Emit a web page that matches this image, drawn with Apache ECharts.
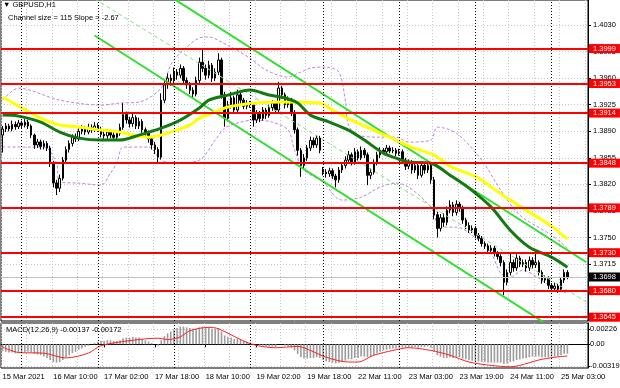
<!DOCTYPE html>
<html><head><meta charset="utf-8">
<script src="https://cdn.jsdelivr.net/npm/echarts@6/dist/echarts.min.js"></script>
<style>html,body{margin:0;padding:0;background:#fff}#c{width:620px;height:388px}</style>
</head><body><div id="c"></div>
<script>
// ---- time axis ----
const tradingDays = ['15 Mar','16 Mar','17 Mar','18 Mar','19 Mar','22 Mar','23 Mar','24 Mar','25 Mar'];
const firstHour = [18,0,0,0,0,0,0,0,0];
const lastHour  = [23,23,23,23,22,23,23,23,5];
const year = '2021';
const padBars = 6;

// ---- candles ----
const opens = [1.3885,1.3893,1.3897,1.3893,1.3899,1.3896,1.3901,1.3898,1.3902,1.3897,
1.3885,1.3872,1.3876,1.3870,1.3874,1.3868,1.3848,1.3822,1.3815,1.3828,
1.3852,1.3866,1.3874,1.3882,1.3880,1.3890,1.3893,1.3889,1.3895,1.3892,
1.3897,1.3893,1.3886,1.3884,1.3889,1.3885,1.3882,1.3887,1.3895,1.3912,
1.3905,1.3900,1.3908,1.3897,1.3903,1.3892,1.3888,1.3880,1.3872,1.3866,
1.3856,1.3931,1.3951,1.3960,1.3957,1.3968,1.3964,1.3973,1.3957,1.3951,
1.3944,1.3939,1.3957,1.3981,1.3973,1.3964,1.3977,1.3960,1.3968,1.3984,
1.3938,1.3907,1.3925,1.3934,1.3918,1.3938,1.3931,1.3923,1.3927,1.3925,
1.3905,1.3914,1.3907,1.3918,1.3911,1.3921,1.3927,1.3918,1.3947,1.3938,
1.3925,1.3931,1.3915,1.3892,1.3865,1.3845,1.3855,1.3868,1.3878,1.3872,
1.3881,1.3840,1.3836,1.3834,1.3838,1.3831,1.3826,1.3839,1.3845,1.3852,
1.3859,1.3849,1.3863,1.3855,1.3865,1.3859,1.3832,1.3836,1.3849,1.3859,
1.3865,1.3863,1.3868,1.3864,1.3865,1.3861,1.3863,1.3852,1.3844,1.3849,
1.3839,1.3845,1.3832,1.3845,1.3839,1.3845,1.3826,1.3780,1.3762,1.3776,
1.3770,1.3786,1.3793,1.3783,1.3794,1.3789,1.3773,1.3766,1.3760,1.3762,
1.3753,1.3749,1.3742,1.3739,1.3733,1.3736,1.3729,1.3725,1.3717,1.3691,
1.3704,1.3717,1.3710,1.3723,1.3715,1.3717,1.3710,1.3720,1.3714,1.3717,
1.3704,1.3694,1.3696,1.3687,1.3683,1.3686,1.3682,1.3694,1.3704];
const closes = [1.3893,1.3897,1.3893,1.3899,1.3896,1.3901,1.3898,1.3902,1.3897,1.3885,
1.3872,1.3876,1.3870,1.3874,1.3868,1.3848,1.3822,1.3815,1.3828,1.3852,
1.3866,1.3874,1.3882,1.3880,1.3890,1.3893,1.3889,1.3895,1.3892,1.3897,
1.3893,1.3886,1.3884,1.3889,1.3885,1.3882,1.3887,1.3895,1.3912,1.3905,
1.3900,1.3908,1.3897,1.3903,1.3892,1.3888,1.3880,1.3872,1.3866,1.3856,
1.3931,1.3951,1.3960,1.3957,1.3968,1.3964,1.3973,1.3957,1.3951,1.3944,
1.3939,1.3957,1.3981,1.3973,1.3964,1.3977,1.3960,1.3968,1.3984,1.3938,
1.3907,1.3925,1.3934,1.3918,1.3938,1.3931,1.3923,1.3927,1.3925,1.3905,
1.3914,1.3907,1.3918,1.3911,1.3921,1.3927,1.3918,1.3947,1.3938,1.3925,
1.3931,1.3915,1.3892,1.3865,1.3845,1.3855,1.3868,1.3878,1.3872,1.3881,
1.3865,1.3836,1.3834,1.3838,1.3831,1.3826,1.3839,1.3845,1.3852,1.3859,
1.3849,1.3863,1.3855,1.3865,1.3859,1.3832,1.3836,1.3849,1.3859,1.3865,
1.3863,1.3868,1.3864,1.3865,1.3861,1.3863,1.3852,1.3844,1.3849,1.3839,
1.3845,1.3832,1.3845,1.3839,1.3845,1.3826,1.3780,1.3762,1.3776,1.3770,
1.3786,1.3793,1.3783,1.3794,1.3789,1.3773,1.3766,1.3760,1.3762,1.3753,
1.3749,1.3742,1.3739,1.3733,1.3736,1.3729,1.3725,1.3717,1.3691,1.3704,
1.3717,1.3710,1.3723,1.3715,1.3717,1.3710,1.3720,1.3714,1.3717,1.3704,
1.3694,1.3696,1.3687,1.3683,1.3686,1.3682,1.3694,1.3704,1.3698];
const highs = [1.3897,1.3901,1.3900,1.3904,1.3903,1.3905,1.3904,1.3906,1.3905,1.3899,
1.3887,1.3880,1.3879,1.3878,1.3877,1.3871,1.3851,1.3826,1.3833,1.3856,
1.3870,1.3878,1.3886,1.3887,1.3894,1.3898,1.3897,1.3900,1.3899,1.3902,
1.3901,1.3896,1.3890,1.3893,1.3892,1.3889,1.3891,1.3900,1.3927,1.3916,
1.3909,1.3913,1.3911,1.3908,1.3906,1.3895,1.3891,1.3884,1.3876,1.3869,
1.3940,1.3956,1.3966,1.3965,1.3974,1.3972,1.3978,1.3976,1.3961,1.3955,
1.3948,1.3962,1.3987,1.3999,1.3978,1.3983,1.3980,1.3973,1.3993,1.3987,
1.3942,1.3930,1.3942,1.3937,1.3945,1.3942,1.3934,1.3931,1.3930,1.3928,
1.3918,1.3917,1.3922,1.3921,1.3925,1.3931,1.3930,1.3955,1.3950,1.3941,
1.3936,1.3934,1.3918,1.3895,1.3868,1.3860,1.3872,1.3883,1.3882,1.3885,
1.3884,1.3843,1.3840,1.3842,1.3841,1.3834,1.3843,1.3849,1.3857,1.3864,
1.3862,1.3868,1.3866,1.3870,1.3868,1.3862,1.3841,1.3853,1.3863,1.3869,
1.3868,1.3872,1.3871,1.3869,1.3868,1.3867,1.3866,1.3855,1.3853,1.3852,
1.3850,1.3848,1.3850,1.3849,1.3850,1.3848,1.3830,1.3784,1.3781,1.3782,
1.3791,1.3799,1.3797,1.3799,1.3797,1.3792,1.3776,1.3770,1.3766,1.3765,
1.3756,1.3752,1.3745,1.3742,1.3740,1.3739,1.3732,1.3728,1.3720,1.3708,
1.3730,1.3721,1.3728,1.3726,1.3721,1.3721,1.3725,1.3724,1.3729,1.3720,
1.3707,1.3700,1.3699,1.3690,1.3690,1.3689,1.3698,1.3708,1.3707];
const lows = [1.3862,1.3889,1.3890,1.3890,1.3892,1.3893,1.3894,1.3895,1.3893,1.3881,
1.3867,1.3868,1.3866,1.3866,1.3864,1.3843,1.3816,1.3806,1.3810,1.3825,
1.3848,1.3862,1.3870,1.3876,1.3877,1.3886,1.3885,1.3886,1.3888,1.3889,
1.3889,1.3882,1.3878,1.3880,1.3881,1.3878,1.3879,1.3884,1.3892,1.3900,
1.3895,1.3896,1.3893,1.3893,1.3888,1.3882,1.3875,1.3866,1.3860,1.3848,
1.3853,1.3927,1.3946,1.3950,1.3952,1.3958,1.3960,1.3952,1.3946,1.3939,
1.3935,1.3936,1.3953,1.3968,1.3958,1.3960,1.3955,1.3956,1.3964,1.3933,
1.3896,1.3903,1.3920,1.3913,1.3915,1.3926,1.3919,1.3919,1.3921,1.3896,
1.3901,1.3902,1.3904,1.3906,1.3908,1.3917,1.3913,1.3915,1.3933,1.3920,
1.3921,1.3910,1.3887,1.3858,1.3830,1.3840,1.3851,1.3864,1.3868,1.3868,
1.3861,1.3832,1.3829,1.3830,1.3827,1.3816,1.3822,1.3835,1.3841,1.3848,
1.3845,1.3846,1.3851,1.3852,1.3855,1.3819,1.3827,1.3833,1.3845,1.3855,
1.3859,1.3860,1.3861,1.3861,1.3857,1.3858,1.3848,1.3839,1.3840,1.3834,
1.3835,1.3827,1.3829,1.3834,1.3835,1.3821,1.3774,1.3750,1.3758,1.3764,
1.3766,1.3782,1.3778,1.3779,1.3784,1.3768,1.3761,1.3756,1.3756,1.3749,
1.3745,1.3738,1.3735,1.3729,1.3729,1.3725,1.3721,1.3712,1.3674,1.3687,
1.3700,1.3705,1.3706,1.3711,1.3711,1.3705,1.3706,1.3709,1.3710,1.3700,
1.3689,1.3690,1.3682,1.3678,1.3679,1.3677,1.3679,1.3690,1.3695];

// ---- indicators: [bar index, price] ----
const maGreen = [[0,1.39113],[5,1.39100],[12,1.39021],[18,1.38889],[24,1.38810],[31,1.38784],[37,1.38784],[43,1.38850],[50,1.38942],[56,1.39047],[62,1.39206],[65,1.39311],[71,1.39377],[78,1.39443],[84,1.39377],[89,1.39338],[93,1.39272],[97,1.39113],[103,1.39021],[109,1.38916],[114,1.38784],[120,1.38612],[124,1.38546],[128,1.38494],[135,1.38480],[141,1.38322],[147,1.38151],[154,1.37900],[160,1.37597],[166,1.37373],[173,1.37241],[178,1.37109]];
const maYellow = [[0,1.39351],[5,1.39232],[12,1.39074],[18,1.38982],[24,1.38955],[31,1.38916],[37,1.38889],[41,1.38850],[46,1.38823],[50,1.38850],[53,1.38889],[59,1.38982],[62,1.39074],[67,1.39153],[71,1.39219],[80,1.39272],[88,1.39285],[100,1.39272],[104,1.39179],[110,1.39047],[117,1.38916],[124,1.38784],[128,1.38705],[136,1.38586],[141,1.38441],[150,1.38283],[154,1.38164],[160,1.37993],[166,1.37834],[173,1.37650],[178,1.37478]];
const bandUpper = [[0,1.39311],[5,1.39469],[18,1.39311],[31,1.39245],[37,1.39272],[43,1.39285],[50,1.39469],[53,1.39773],[56,1.39931],[62,1.40129],[65,1.40142],[69,1.40076],[78,1.39865],[83,1.39707],[90,1.39614],[94,1.39680],[97,1.39733],[102,1.39746],[106,1.39680],[108,1.39311],[109,1.38982],[112,1.38850],[119,1.38823],[124,1.38823],[128,1.38757],[135,1.38784],[137,1.38955],[143,1.38876],[151,1.38520],[157,1.38124],[163,1.37795],[173,1.37531],[178,1.37360]];
const bandLower = [[0,1.38692],[13,1.38692],[17,1.38480],[18,1.38230],[24,1.38217],[31,1.38190],[34,1.38349],[36,1.38480],[38,1.38692],[46,1.38692],[50,1.38520],[54,1.38480],[62,1.38520],[67,1.38784],[70,1.38942],[75,1.39021],[79,1.39047],[85,1.39021],[90,1.38916],[92,1.38652],[95,1.38388],[101,1.38230],[105,1.38032],[107,1.37993],[113,1.38032],[119,1.38164],[124,1.38217],[128,1.38164],[135,1.37900],[138,1.37637],[143,1.37637],[150,1.37465],[154,1.37294],[157,1.37030],[160,1.36977],[164,1.37070],[169,1.36964],[173,1.36845],[178,1.36766]];
const channelUpper = [[29,1.41312],[184,1.37174]];
const channelLower = [[29,1.40162],[184,1.36024]];
const channelMid   = [[29,1.40644],[184,1.36650]];
const channelText = 'Channel size = 115 Slope = -2.67';

// ---- levels & ticks ----
const levels = [1.3999,1.3953,1.3914,1.3848,1.3789,1.3730,1.3680,1.3645];
const lastPrice = 1.3698;
const priceTicks = [1.4030,1.3995,1.3960,1.3925,1.3890,1.3855,1.3820,1.3785,1.3750,1.3715,1.3680,1.3645];

// ---- MACD ----
const macdMain = [-0.0010,-0.0011,-0.0012,-0.0012,-0.0013,-0.0013,-0.0012,-0.0012,-0.0011,-0.0012,-0.0014,-0.0015,-0.0016,
-0.0018,-0.0020,-0.0023,-0.0026,-0.0027,-0.0026,-0.0023,
-0.0019,-0.0016,-0.0013,-0.0011,-0.0008,-0.0006,-0.0004,
-0.0002,0.0000,0.0002,0.0004,0.0005,
0.0005,0.0006,0.0006,0.0005,0.0005,0.0006,0.0009,0.0010,0.0010,0.0011,0.0010,0.0010,0.0008,0.0006,0.0004,0.0002,0.0000,
-0.0002,0.0006,
0.0012,0.0016,0.0019,0.0022,0.0024,0.0026,0.0026,0.0025,0.0024,0.0023,
0.0023,0.0025,0.0026,0.0025,0.0025,0.0023,0.0023,0.0024,0.0019,0.0013,
0.0011,0.0010,0.0008,0.0008,0.0007,0.0005,0.0004,0.0003,0.0001,0.0000,
-0.0001,-0.0002,-0.0003,-0.0003,-0.0003,-0.0004,0.0000,0.0000,-0.0002,-0.0003,-0.0005,
-0.0009,-0.0014,-0.0019,-0.0021,-0.0021,-0.0020,-0.0020,-0.0019,-0.0020,
-0.0023,-0.0025,-0.0026,-0.0027,-0.0028,-0.0027,-0.0026,-0.0024,-0.0022,-0.0022,
-0.0020,-0.0020,-0.0018,-0.0018,-0.0019,-0.0018,-0.0016,-0.0013,-0.0011,-0.0009,
-0.0008,-0.0007,-0.0006,-0.0006,-0.0005,-0.0005,-0.0005,-0.0004,-0.0005,-0.0004,-0.0005,-0.0004,-0.0004,-0.0003,-0.0005,
-0.0011,-0.0016,-0.0018,-0.0020,-0.0020,-0.0019,-0.0020,-0.0019,-0.0019,-0.0021,
-0.0022,-0.0023,-0.0024,-0.0025,-0.0025,-0.0026,-0.0026,-0.0027,-0.0027,-0.0027,-0.0027,-0.0027,-0.0029,-0.0028,-0.0026,
-0.0025,-0.0023,-0.0022,-0.0021,-0.0020,-0.0019,-0.0018,-0.0018,-0.0018,-0.0019,-0.0019,-0.0019,-0.0018,-0.0018,-0.0018,-0.0016,-0.0014,-0.00137];
const macdSignal = [[0,-0.0004],[5,-0.0012],[13,-0.0013],[20,-0.0020],[27,-0.0013],[31,-0.0002],[41,0.0006],[49,0.0009],[52,0.0007],[56,0.0011],[59,0.0020],[65,0.0025],[68,0.0023],[78,0.0001],[86,-0.0005],[93,-0.0003],[97,-0.0009],[102,-0.0019],[109,-0.0026],[112,-0.0026],[117,-0.0016],[123,-0.0009],[128,-0.0005],[135,-0.0009],[141,-0.0016],[147,-0.0026],[154,-0.0031],[160,-0.0033],[163,-0.0031],[169,-0.0023],[174,-0.0019],[178,-0.00172]];
const macdTicks = [0.00226, 0, -0.00319];

// ---- build ----
const cats = [], dayStarts = [];
tradingDays.forEach((d, i) => {
  for (let h = firstHour[i]; h <= lastHour[i]; h++) {
    if (h === 0) dayStarts.push(cats.length);
    cats.push(d + ' ' + String(h).padStart(2, '0') + ':00');
  }
});
for (let k = 0; k < padBars; k++) cats.push('');
const candles = closes.map((c, i) => [opens[i], c, lows[i], highs[i]]);

const FONT = '"Liberation Sans", Arial, "DejaVu Sans", sans-serif';
const FS = 7.5;
const gridLine = { show: true, lineStyle: { color: '#c6c6c6', type: [1, 2], width: 1 } };
const sepLines = dayStarts.map(i => ({ xAxis: i }));
const boxLabel = (txt, bg) => ({ show: true, position: 'end', distance: 1, formatter: txt, color: '#fff', backgroundColor: bg,
  padding: [1, 4, 0, 4], fontSize: FS, fontFamily: FONT });
const levelItems = levels.map(v => ({ yAxis: v, lineStyle: { color: '#ff0000', width: 2, type: 'solid' }, label: boxLabel(v.toFixed(4), '#ff0000') }));
levelItems.push({ yAxis: lastPrice, lineStyle: { color: '#c0c0c0', width: 1, type: 'solid' }, label: boxLabel(lastPrice.toFixed(4), '#000') });

const chart = echarts.init(document.getElementById('c'));
chart.setOption({
  animation: false,
  backgroundColor: '#fff',
  textStyle: { fontFamily: FONT },
  title: [
    { text: '\u25BC GBPUSD,H1', left: 3, top: 1, padding: 0, textStyle: { fontSize: FS, fontWeight: 'normal', color: '#000', fontFamily: FONT } },
    { text: channelText, left: 8, top: 14, padding: 0, textStyle: { fontSize: FS, fontWeight: 'normal', color: '#000', fontFamily: FONT } },
    { text: 'MACD(12,26,9) ' + macdMain[macdMain.length - 1].toFixed(5) + ' ' + macdSignal[macdSignal.length - 1][1].toFixed(5),
      left: 6, top: 326, padding: 0, textStyle: { fontSize: FS, fontWeight: 'normal', color: '#000', fontFamily: FONT } }
  ],
  grid: [
    { left: 1, right: 32, top: 0, height: 321, show: true, borderColor: '#000', borderWidth: 1, outerBoundsMode: 'none' },
    { left: 1, right: 32, top: 323, height: 45, show: true, borderColor: '#000', borderWidth: 1, outerBoundsMode: 'none' }
  ],
  xAxis: [
    { type: 'category', gridIndex: 0, data: cats, axisLine: { show: false }, axisTick: { show: false }, axisLabel: { show: false },
      splitLine: Object.assign({ interval: 7 }, gridLine) },
    { type: 'category', gridIndex: 1, data: cats, axisLine: { show: true, lineStyle: { color: '#000', width: 1 } },
      axisTick: { show: true, interval: 15, alignWithLabel: true, length: 3, lineStyle: { color: '#000' } },
      axisLabel: { interval: 15, align: 'left', fontSize: FS, color: '#000', margin: 5, fontFamily: FONT,
        formatter: (v, i) => i === 0 ? tradingDays[0] + ' ' + year : v },
      splitLine: Object.assign({ interval: 7 }, gridLine) }
  ],
  yAxis: [
    { type: 'value', gridIndex: 0, position: 'right', min: 1.3640, max: 1.4063,
      axisLine: { show: true, lineStyle: { color: '#000' } },
      axisTick: { show: true, length: 3, customValues: priceTicks, lineStyle: { color: '#000' } },
      axisLabel: { customValues: priceTicks, formatter: v => v.toFixed(4), fontSize: FS, color: '#000', margin: 5, fontFamily: FONT },
      splitLine: gridLine },
    { type: 'value', gridIndex: 1, position: 'right', min: -0.00348, max: 0.00314,
      axisLine: { show: true, lineStyle: { color: '#000' } },
      axisTick: { show: true, length: 2, customValues: macdTicks, lineStyle: { color: '#000' } },
      axisLabel: { customValues: macdTicks, formatter: v => v === 0 ? '0.00' : v.toFixed(5), fontSize: FS, color: '#000', margin: 2, fontFamily: FONT },
      splitLine: gridLine }
  ],
  series: [
    { type: 'line', name: 'bandUpper', xAxisIndex: 0, yAxisIndex: 0, data: bandUpper, showSymbol: false, smooth: 0.3, z: 1,
      lineStyle: { color: '#bd86d8', width: 1, type: [3, 2] },
      markLine: { silent: true, symbol: ['none', 'none'], label: { show: false }, animation: false,
        lineStyle: { color: '#000', type: [1, 2], width: 1 }, data: sepLines } },
    { type: 'line', name: 'bandLower', xAxisIndex: 0, yAxisIndex: 0, data: bandLower, showSymbol: false, smooth: 0.3, z: 1,
      lineStyle: { color: '#bd86d8', width: 1, type: [3, 2] } },
    { type: 'candlestick', xAxisIndex: 0, yAxisIndex: 0, data: candles, barWidth: 2, z: 2,
      itemStyle: { color: '#fff', color0: '#000', borderColor: '#000', borderColor0: '#000', borderWidth: 1 } },
    { type: 'line', name: 'chanMid', xAxisIndex: 0, yAxisIndex: 0, data: channelMid, showSymbol: false, z: 3,
      lineStyle: { color: '#7ee07e', width: 1, type: [4, 3] } },
    { type: 'line', name: 'chanUp', xAxisIndex: 0, yAxisIndex: 0, data: channelUpper, showSymbol: false, z: 3,
      lineStyle: { color: '#2fe02f', width: 2 } },
    { type: 'line', name: 'chanLow', xAxisIndex: 0, yAxisIndex: 0, data: channelLower, showSymbol: false, z: 3,
      lineStyle: { color: '#2fe02f', width: 2 } },
    { type: 'line', name: 'maYellow', xAxisIndex: 0, yAxisIndex: 0, data: maYellow, showSymbol: false, smooth: 0.3, z: 4,
      lineStyle: { color: '#ffff00', width: 3 } },
    { type: 'line', name: 'maGreen', xAxisIndex: 0, yAxisIndex: 0, data: maGreen, showSymbol: false, smooth: 0.3, z: 4,
      lineStyle: { color: '#137a13', width: 3 },
      markLine: { silent: true, symbol: ['none', 'none'], animation: false, precision: 4, data: levelItems } },
    { type: 'bar', name: 'macd', xAxisIndex: 1, yAxisIndex: 1, data: macdMain, barWidth: 1.6, itemStyle: { color: '#9c9c9c' }, z: 2,
      markLine: { silent: true, symbol: ['none', 'none'], label: { show: false }, animation: false,
        lineStyle: { color: '#000', type: [1, 2], width: 1 }, data: sepLines } },
    { type: 'line', name: 'signal', xAxisIndex: 1, yAxisIndex: 1, data: macdSignal, showSymbol: false, smooth: 0.3, z: 3,
      lineStyle: { color: '#ff2020', width: 1 } }
  ]
});
</script>
</body></html>
